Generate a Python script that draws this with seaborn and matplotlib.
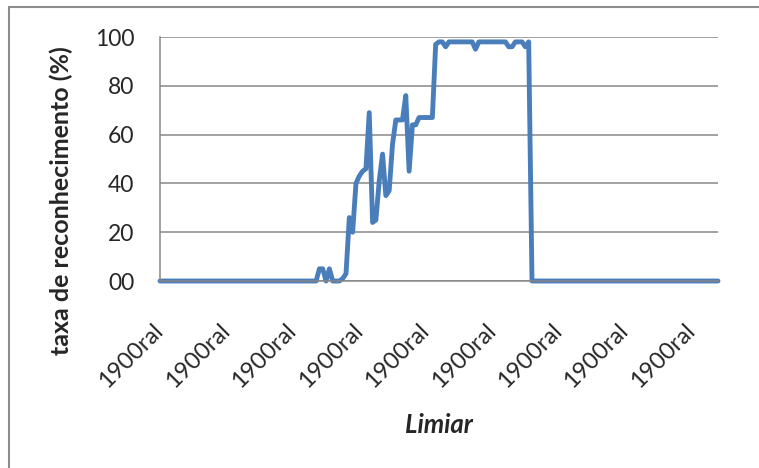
import matplotlib
matplotlib.use("Agg")
import matplotlib.pyplot as plt
from matplotlib.patches import Rectangle
import seaborn as sns
import numpy as np

# taxa de reconhecimento (%) por limiar
rates = [
    0, 0, 0, 0, 0, 0, 0, 0, 0, 0, 0, 0, 0, 0, 0, 0, 0, 0, 0, 0,
    0, 0, 0, 0, 0, 0, 0, 0, 0, 0, 0, 0, 0, 0, 0, 0, 0, 0, 0, 0,
    0, 0, 0, 0, 0, 0, 0, 0, 5, 5, 0, 5, 0, 0, 0, 1, 3, 26, 20, 40,
    43, 45, 46, 69, 24, 25, 41, 52, 35, 37, 56, 66, 66, 66, 76, 45, 64, 64, 67, 67,
    67, 67, 67, 97, 98, 98, 96, 98, 98, 98, 98, 98, 98, 98, 98, 95, 98, 98, 98, 98,
    98, 98, 98, 98, 98, 96, 96, 98, 98, 98, 96, 98, 0, 0, 0, 0, 0, 0, 0, 0,
    0, 0, 0, 0, 0, 0, 0, 0, 0, 0, 0, 0, 0, 0, 0, 0, 0, 0, 0, 0,
    0, 0, 0, 0, 0, 0, 0, 0, 0, 0, 0, 0, 0, 0, 0, 0, 0, 0, 0, 0,
    0, 0, 0, 0, 0, 0, 0, 0, 0,
]
tick_pos = [0, 20, 40, 60, 80, 100, 120, 140, 160]
tick_labels = ["1900ral", "1900ral", "1900ral", "1900ral", "1900ral",
               "1900ral", "1900ral", "1900ral", "1900ral"]
y_ticks = [0, 20, 40, 60, 80, 100]
y_labels = ["00", "20", "40", "60", "80", "100"]

sns.set_style("white")
plt.rcParams["font.family"] = ["Lato", "DejaVu Sans"]

W, H = 759, 468
fig = plt.figure(figsize=(W / 100, H / 100), dpi=100)
ax = fig.add_axes([160 / W, 1 - 281 / H, 558 / W, 244 / H])

x = np.arange(len(rates))
sns.lineplot(x=x, y=rates, ax=ax, color="#4A7EBB", linewidth=3.5)
for ln in ax.lines:
    ln.set_clip_on(False)
    ln.set_solid_capstyle("round")
    ln.set_solid_joinstyle("round")

grey = "#878787"
ax.set_xlim(0, len(rates) - 1)
ax.set_ylim(0, 100)
ax.set_yticks(y_ticks)
ax.set_yticklabels(y_labels, fontsize=16.5)
ax.set_xticks(tick_pos)
ax.set_xticklabels(tick_labels, fontsize=17, rotation=45, ha="right",
                   va="center", rotation_mode="anchor")
ax.tick_params(axis="y", direction="out", length=6.5, width=1.1, color=grey, pad=12)
ax.tick_params(axis="x", direction="out", length=5, width=1.1, color=grey, pad=28)
ax.yaxis.grid(True, color=grey, linewidth=1.1)
ax.set_axisbelow(True)
sns.despine(ax=ax, top=True, right=True)
for side in ["left", "bottom"]:
    ax.spines[side].set_color(grey)
    ax.spines[side].set_linewidth(1.1)
ax.set_xlabel("")
ax.set_ylabel("")

fig.text(61 / W, 1 - 201 / H, "taxa de reconhecimento (%)", rotation=90,
         fontsize=18, fontweight="bold", ha="center", va="center")
fig.text(439 / W, 1 - 425 / H, "Limiar", fontsize=18.5, fontweight="bold",
         fontstyle="italic", ha="center", va="center")

# moldura da área do gráfico (só topo e esquerda visíveis)
fig.add_artist(Rectangle((9 / W, -0.1), 1.0, 1 - 7 / H + 0.1,
                         transform=fig.transFigure, fill=False,
                         edgecolor="#8c8c8c", linewidth=1.5))

fig.savefig("out.png", dpi=100)
